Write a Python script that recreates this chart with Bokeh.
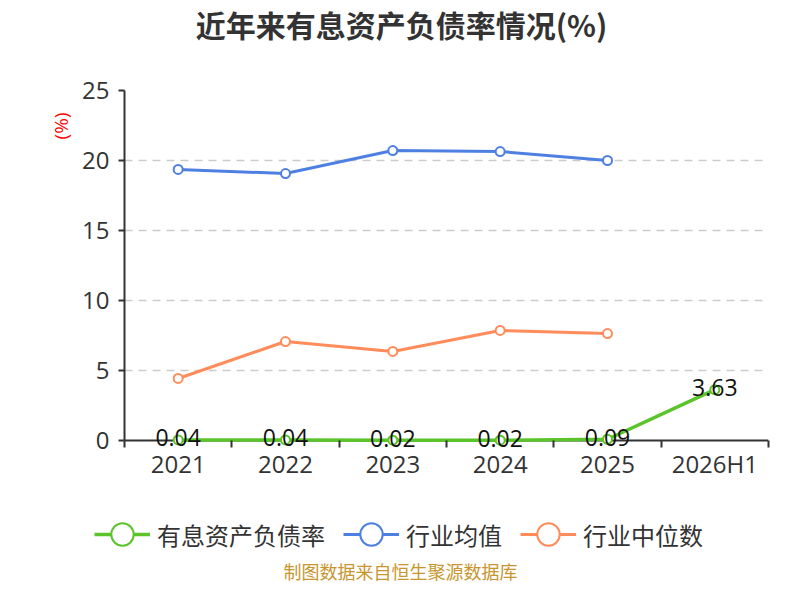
import numpy as np
from bokeh.plotting import figure
from bokeh.layouts import column
from bokeh.models import (Range1d, FixedTicker, Label, Legend, LegendItem,
                          ColumnDataSource, Title, Span)
from bokeh.embed import file_html
from bokeh.resources import INLINE
from bokeh.core.properties import value

# ---- data ----
categories = ["2021", "2022", "2023", "2024", "2025", "2026H1"]
debt_ratio = [0.04, 0.04, 0.02, 0.02, 0.09, 3.63]
industry_mean = [19.36, 19.07, 20.71, 20.64, 20.00]
industry_median = [4.43, 7.07, 6.36, 7.86, 7.64]
y_ticks = [0, 5, 10, 15, 20, 25]

title_text = "近年来有息资产负债率情况(%)"
unit_text = "(%)"
source_text = "制图数据来自恒生聚源数据库"
series_names = ["有息资产负债率", "行业均值", "行业中位数"]
colors = ["#5BC42A", "#4E80E2", "#FF8C5A"]

NUM_FONT = "Open Sans"
CJK_FONT = "Noto Sans CJK SC"
W = 784
PAD = 11  # px of room below the zero line so value labels are not clipped

x_pos = [i + 0.5 for i in range(len(categories))]
boundaries = [i for i in range(len(categories) + 1)]


def blank_fig(h):
    f = figure(width=W, height=h, x_range=Range1d(-100, -99),
               y_range=Range1d(-100, -99), output_backend="svg",
               toolbar_location=None, x_axis_location=None,
               y_axis_location=None, title_location=None, min_border=0,
               frame_align=False)
    f.outline_line_color = None
    f.grid.visible = False
    return f


# ---- top: title ----
top = blank_fig(70)
top.add_layout(Label(x=401, y=47, x_units="screen", y_units="screen",
                     text=title_text, text_align="center", text_baseline="middle",
                     text_font=CJK_FONT, text_font_size="30px",
                     text_font_style="bold", text_color="#333333"))

# ---- main plot ----
y_max = y_ticks[-1]
plot_h = 350  # pixels for 0..25
p = figure(width=W, height=420, x_range=Range1d(0, len(categories)),
           y_range=Range1d(-y_max * PAD / plot_h, y_max),
           output_backend="svg", toolbar_location=None,
           title_location=None, frame_align=False,
           min_border_left=124, min_border_right=16, min_border_top=20,
           min_border_bottom=50 - PAD)
p.outline_line_color = None

p.xgrid.visible = False
p.ygrid.ticker = FixedTicker(ticks=y_ticks[1:])
p.ygrid.grid_line_color = "#cccccc"
p.ygrid.grid_line_dash = "8 6"
p.ygrid.grid_line_width = 1.5

# zero line acting as the category axis line
p.add_layout(Span(location=0, dimension="width", line_color="#333333",
                  line_width=2, level="underlay"))

p.yaxis.ticker = FixedTicker(ticks=y_ticks)
p.yaxis.bounds = (0, y_max)
p.yaxis.axis_line_color = "#333333"
p.yaxis.axis_line_width = 2
p.yaxis.major_tick_line_color = "#333333"
p.yaxis.major_tick_line_width = 2
p.yaxis.major_tick_out = 6
p.yaxis.major_tick_in = 0
p.yaxis.minor_tick_line_color = None
p.yaxis.major_label_text_font = NUM_FONT
p.yaxis.major_label_text_font_size = "24px"
p.yaxis.major_label_text_color = "#333333"
p.yaxis.major_label_standoff = 9

p.xaxis.ticker = FixedTicker(ticks=x_pos, minor_ticks=boundaries)
p.xaxis.major_label_overrides = {x: c for x, c in zip(x_pos, categories)}
p.xaxis.axis_line_color = None
p.xaxis.major_tick_out = 0
p.xaxis.major_tick_in = 0
p.xaxis.major_tick_line_color = None
p.xaxis.minor_tick_line_color = "#333333"
p.xaxis.minor_tick_line_width = 2
p.xaxis.minor_tick_in = PAD
p.xaxis.minor_tick_out = 7 - PAD
p.xaxis.major_label_text_font = NUM_FONT
p.xaxis.major_label_text_font_size = "24px"
p.xaxis.major_label_text_color = "#333333"
p.xaxis.major_label_standoff = 6 - PAD

# unit label on the left side
p.add_layout(Title(text=unit_text, align="right", offset=22, standoff=12,
                   text_font=NUM_FONT, text_font_size="19px",
                   text_font_style="normal", text_color="#ff0000"), "left")

series = [
    (x_pos, debt_ratio, colors[0], series_names[0], 3.5),
    (x_pos[:len(industry_mean)], industry_mean, colors[1], series_names[1], 3),
    (x_pos[:len(industry_median)], industry_median, colors[2], series_names[2], 3),
]
sources = []
for xs, ys, col, name, lw in series:
    src = ColumnDataSource(dict(x=xs, y=ys))
    sources.append((src, col, name, lw))
    p.line("x", "y", source=src, line_color=col, line_width=lw)
    p.scatter("x", "y", source=src, size=9, fill_color="white",
              line_color=col, line_width=2)

lab_src = ColumnDataSource(dict(x=x_pos, y=debt_ratio,
                                t=[f"{v:.2f}" for v in debt_ratio]))
p.text("x", "y", text="t", source=lab_src, text_align="center",
       text_baseline="middle", y_offset=-2, text_font=value(NUM_FONT),
       text_font_size="23px", text_color="#111111")

# ---- bottom: legend + source note ----
bottom = blank_fig(94)
items = []
for src, col, name, lw in sources:
    lr = bottom.line("x", "y", source=src, line_color=col, line_width=lw)
    sr = bottom.scatter("x", "y", source=src, size=9, fill_color="white",
                        line_color=col, line_width=2)
    items.append(LegendItem(label=name, renderers=[lr, sr]))

legend = Legend(items=items, orientation="horizontal", location=(94, 22),
                glyph_width=56, glyph_height=56, label_standoff=7, spacing=18,
                padding=0, margin=0, border_line_color=None,
                background_fill_alpha=0, label_text_font=CJK_FONT,
                label_text_font_size="24px", label_text_color="#333333",
                label_text_baseline="middle")
bottom.add_layout(legend, "center")
bottom.add_layout(Label(x=400, y=14, x_units="screen", y_units="screen",
                        text=source_text, text_align="center",
                        text_baseline="middle", text_font=CJK_FONT,
                        text_font_size="18px", text_color="#C8962E"))

layout = column(top, p, bottom, spacing=0)
open("out.html", "w").write(file_html(layout, INLINE))
